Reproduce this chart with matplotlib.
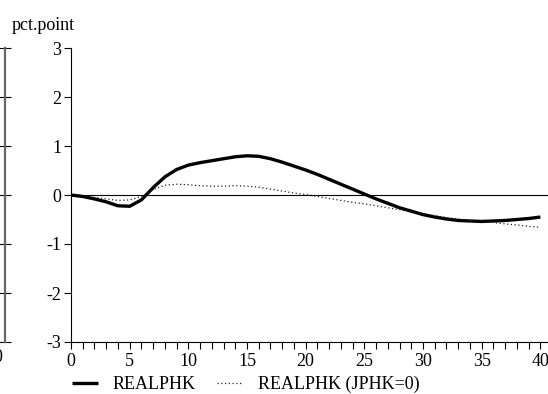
"""
Impulse response chart: REALPHK vs REALPHK (JPHK=0).
Output: out.png
"""

import matplotlib
matplotlib.use("Agg")
import matplotlib.pyplot as plt
from matplotlib.ticker import MultipleLocator

# ---------------------------------------------------------------------------
# Data
# ---------------------------------------------------------------------------

periods = list(range(0, 41))

realphk = [0.00, -0.03, -0.08, -0.14, -0.22, -0.23, -0.10, 0.15, 0.37, 0.52,
           0.61, 0.66, 0.70, 0.74, 0.78, 0.80, 0.79, 0.74, 0.67, 0.59,
           0.51, 0.42, 0.32, 0.22, 0.12, 0.02, -0.08, -0.17, -0.26, -0.33,
           -0.40, -0.45, -0.49, -0.52, -0.53, -0.54, -0.53, -0.52, -0.50, -0.48,
           -0.45]

realphk_jphk0 = [0.00, -0.02, -0.05, -0.08, -0.11, -0.10, -0.03, 0.11, 0.20, 0.22,
                 0.21, 0.19, 0.18, 0.18, 0.19, 0.18, 0.16, 0.12, 0.08, 0.04,
                 0.01, -0.03, -0.07, -0.11, -0.15, -0.18, -0.22, -0.26, -0.30, -0.34,
                 -0.38, -0.42, -0.46, -0.49, -0.52, -0.54, -0.56, -0.59, -0.61, -0.64,
                 -0.66]

yticks = [-3, -2, -1, 0, 1, 2, 3]
labels = ["REALPHK", "REALPHK (JPHK=0)"]

# ---------------------------------------------------------------------------
# Style
# ---------------------------------------------------------------------------

FS = 13
plt.rcParams.update({
    "font.family": "Liberation Serif",
    "font.size": FS,
})

W, H = 548, 394
fig = plt.figure(figsize=(W / 100, H / 100), dpi=100)

left, right = 71 / W, 1.0
bottom, top = (H - 342) / H, (H - 48) / H
ax = fig.add_axes([left, bottom, right - left, top - bottom])

ax.plot(periods, realphk, color="black", linewidth=2.4, label=labels[0],
        solid_capstyle="butt")
ax.plot(periods, realphk_jphk0, color="#222222", linewidth=0.9,
        linestyle=(0, (1, 2)), label=labels[1])
ax.axhline(0, color="black", linewidth=0.8)

ax.set_xlim(0, 40.65)
ax.set_ylim(-3, 3)
ax.set_yticks(yticks)
ax.set_yticklabels([str(v) for v in yticks])
ax.xaxis.set_major_locator(MultipleLocator(5))
ax.xaxis.set_minor_locator(MultipleLocator(1))
ax.tick_params(axis="both", which="both", direction="out", length=5,
               width=0.8, color="black", labelsize=FS, pad=3)
ax.tick_params(axis="y", pad=2)

for s in ("top", "right"):
    ax.spines[s].set_visible(False)
for s in ("left", "bottom"):
    ax.spines[s].set_linewidth(0.8)

fig.text(75 / W, (H - 25) / H, "pct.point", ha="right", va="center",
         fontsize=FS)

# edge of the neighbouring panel, cut off at the left border
ax0 = fig.add_axes([-0.5, bottom, 0.5 + 4.5 / W, top - bottom])
ax0.set_ylim(-3, 3)
ax0.set_yticks(yticks)
ax0.yaxis.tick_right()
ax0.tick_params(axis="y", direction="inout", length=8, width=0.8,
                labelright=False)
ax0.set_xticks([])
for s in ("top", "left", "bottom"):
    ax0.spines[s].set_visible(False)
ax0.spines["right"].set_color("#666666")
ax0.spines["right"].set_linewidth(1.6)
ax0.patch.set_visible(False)
fig.text(3.5 / W, (H - 358) / H, "40", ha="right", va="center", fontsize=FS)

fig.legend(loc="center left", bbox_to_anchor=(72 / W, (H - 384.5) / H),
           ncol=2, frameon=False, borderpad=0, borderaxespad=0,
           handlelength=1.44, handletextpad=0.83, columnspacing=1.16,
           fontsize=FS)

fig.savefig("out.png", dpi=100)
